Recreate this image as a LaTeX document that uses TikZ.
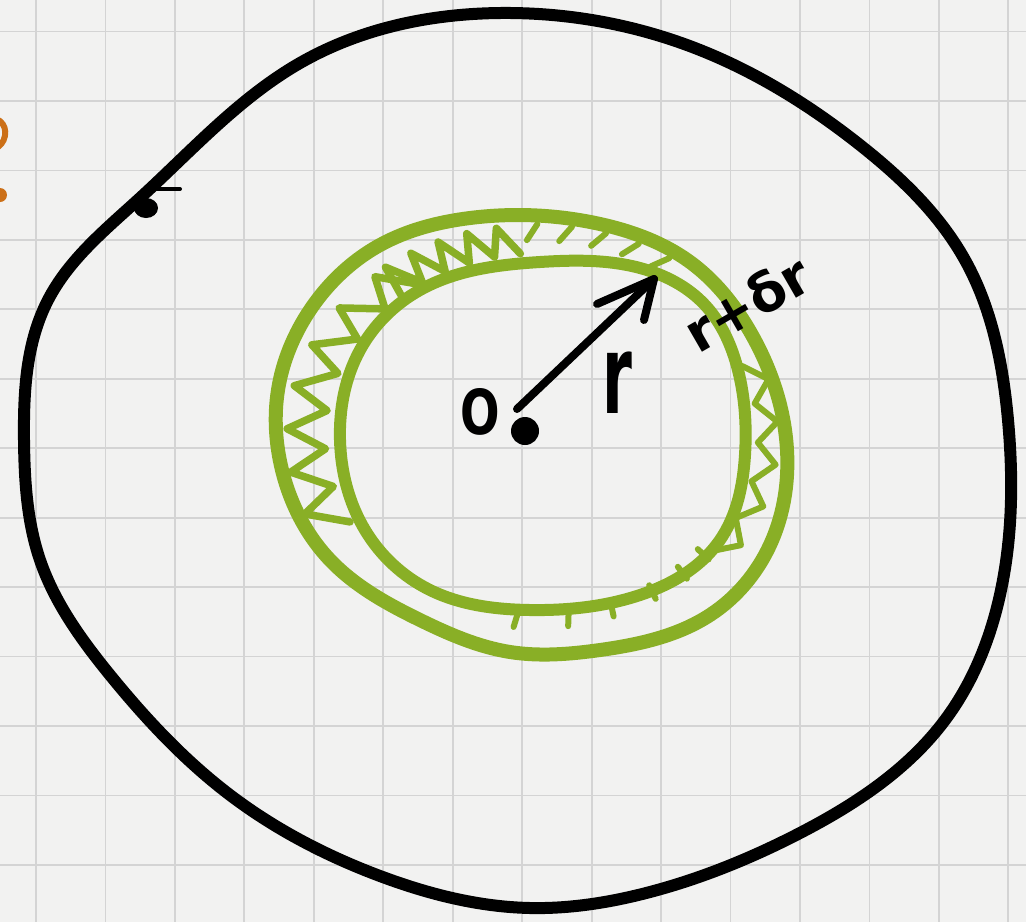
\documentclass[tikz,border=0pt]{standalone}
\usepackage{fontspec}
\newfontfamily\hand{DejaVu Sans}
\usetikzlibrary{calc,hobby}
\definecolor{paper}{RGB}{242,242,241}
\definecolor{gridc}{RGB}{212,212,212}
\definecolor{grn}{RGB}{137,175,38}
\definecolor{org}{RGB}{204,112,24}
\begin{document}
\begin{tikzpicture}[x=1pt,y=-1pt,
  gridline/.style={gridc,line width=1.8pt},
  ink/.style={black,line width=12pt,line cap=round,line join=round},
  arrowline/.style={black,line width=8pt,line cap=round,line join=round},
  ring/.style={grn,line width=12pt,line cap=round,line join=round},
  hatch/.style={grn,line width=7.5pt,line cap=round,line join=round},
  lab/.style={inner sep=0pt,text=black}]
\fill[paper] (0,0) rectangle (1026,922);
\useasboundingbox (0,0) rectangle (1026,922);
% grid paper
\foreach \k in {0,...,14} \draw[gridline] ({36+69.45*\k},0) -- ({36+69.45*\k},922);
\foreach \k in {0,...,12} \draw[gridline] (0,{31.5+69.45*\k}) -- (1026,{31.5+69.45*\k});
% orange mark at the left edge
\draw[org,line width=6pt,line cap=round] (-4,119) .. controls (8,123) and (8,140) .. (-2,147);
\fill[org] (0,195) circle (7);
% big black circle
\draw[ink,use Hobby shortcut,closed=true] (500,13) .. (700,50) .. (860,145) .. (965,260) .. (1008,420) .. (1003,580) .. (945,720) .. (800,833) .. (650,892) .. (530,908) .. (380,876) .. (230,795) .. (110,675) .. (40,560) .. (24,440) .. (48,300) .. (140,198) .. (300,63);
% stray mark on the big circle
\fill (146,208) ellipse (12 and 10);
\draw[line width=4pt,line cap=round] (154,189) -- (180,189);
% green rings
\draw[ring,line width=14pt,use Hobby shortcut,closed=true] (470,218) .. (600,224) .. (690,262) .. (752,335) .. (787,450) .. (770,545) .. (710,615) .. (600,650) .. (510,652) .. (420,620) .. (330,560) .. (282,470) .. (278,390) .. (310,310) .. (380,245);
\draw[ring,line width=12pt,use Hobby shortcut,closed=true] (540,262) .. (640,268) .. (705,305) .. (738,370) .. (745,455) .. (720,540) .. (640,595) .. (530,610) .. (430,590) .. (365,530) .. (340,440) .. (360,350) .. (420,290);
% hatching between the rings
\draw[hatch] ({539+214*cos(152)},{436+183*sin(152)}) \foreach \a in {152,164,...,224} { -- ({533+246*cos(\a+6)},{436+208*sin(\a+6)}) -- ({539+214*cos(\a+12)},{436+183*sin(\a+12)}) };
\draw[hatch] ({539+214*cos(230)},{436+183*sin(230)}) \foreach \a in {230,237,...,258} { -- ({533+248*cos(\a+3.5)},{436+210*sin(\a+3.5)}) -- ({539+214*cos(\a+7)},{436+183*sin(\a+7)}) };
\foreach \a in {268,276,284,292,300} \draw[hatch,line width=6pt] ({535+232*cos(\a)},{436+196*sin(\a)}) -- ({533+250*cos(\a+3)},{436+212*sin(\a+3)});
\draw[hatch,line width=6pt] ({538+220*cos(338)},{436+187*sin(338)}) \foreach \a in {338,350,...,386} { -- ({534+244*cos(\a+6)},{436+206*sin(\a+6)}) -- ({538+220*cos(\a+12)},{436+187*sin(\a+12)}) };
\foreach \a in {40,48,58,70,82,96} \draw[hatch,line width=6pt] ({540+206*cos(\a)},{436+176*sin(\a)}) -- ({537+224*cos(\a)},{436+192*sin(\a)});
% centre, arrow and labels
\node[lab,font=\hand\bfseries\fontsize{62}{62}\selectfont,xscale=0.75] (O) at (480,412) {O};
\node[circle,fill=black,inner sep=0pt,minimum size=28pt] (dot) at (525,431) {};
\coordinate (tail) at (517,409);
\coordinate (tip) at (654,279);
\draw[arrowline] (tail) -- (tip);
\draw[arrowline] ($(tip)+(-57,25)$) -- (tip) -- ($(tip)+(-10,41)$);
\node[lab,font=\hand\bfseries\fontsize{110}{110}\selectfont,xscale=0.55] (r) at (617,383) {r};
\node[lab,font=\hand\bfseries\fontsize{54}{54}\selectfont,rotate=30] (rdr) at (747,303) {r+δr};
\end{tikzpicture}
\end{document}
